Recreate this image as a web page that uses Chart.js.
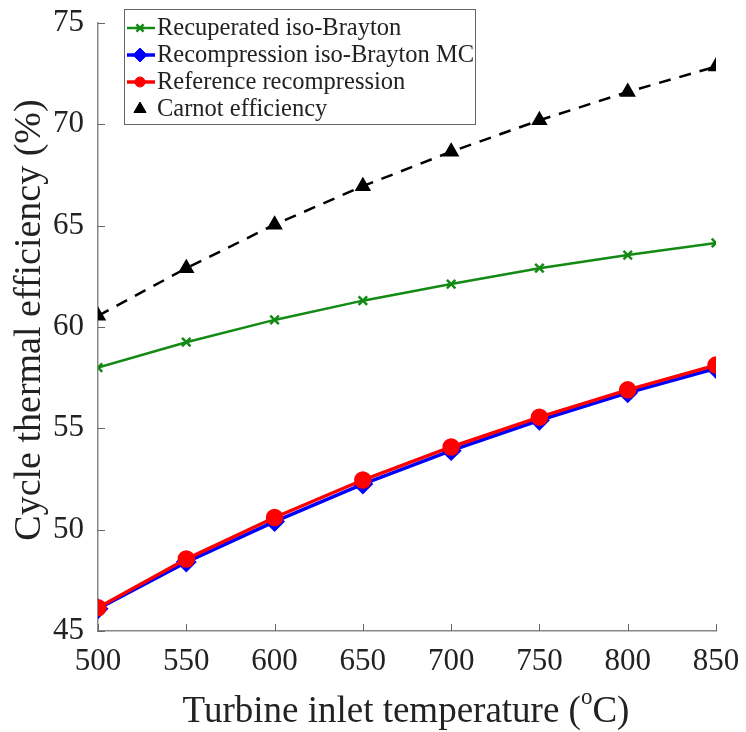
<!DOCTYPE html>
<html lang="en">
<head>
  <meta charset="UTF-8" />
  <title>Cycle thermal efficiency</title>
  <style>
    html, body { margin: 0; padding: 0; background: white; }
    .chart-box { width: 746px; height: 732px; }
  </style>
  <script src="https://cdn.jsdelivr.net/npm/chart.js"></script>
</head>
<body>
  <div class="chart-box"><canvas id="effChart"></canvas></div>

  <script>
    // data
    const temps = [500, 550, 600, 650, 700, 750, 800, 850];
    const recuperated = [58.0, 59.25, 60.35, 61.3, 62.12, 62.9, 63.55, 64.15];
    const recompMC = [46.1, 48.4, 50.4, 52.25, 53.9, 55.4, 56.75, 57.95];
    const refRecomp = [46.15, 48.55, 50.6, 52.45, 54.08, 55.55, 56.9, 58.12];
    const carnot = [60.55, 62.9, 65.05, 66.95, 68.65, 70.2, 71.6, 72.85];
    const yTicks = [45, 50, 55, 60, 65, 70, 75];
    const xTicks = [500, 550, 600, 650, 700, 750, 800, 850];

    const serif = "'Liberation Serif', 'Times New Roman', serif";

    const pts = arr => arr.map((v, i) => ({ x: temps[i], y: v }));

    // MATLAB-style inside ticks, axis titles and boxed legend
    const decorPlugin = {
      id: "decor",
      afterDraw(chart) {
        const ctx = chart.ctx;
        const area = chart.chartArea;
        const xs = chart.scales.x, ys = chart.scales.y;
        ctx.save();
        ctx.strokeStyle = "#666";
        ctx.lineWidth = 1;
        xTicks.forEach(t => {
          const px = Math.round(xs.getPixelForValue(t)) + 0.5;
          ctx.beginPath(); ctx.moveTo(px, area.bottom); ctx.lineTo(px, area.bottom - 7); ctx.stroke();
        });
        yTicks.forEach(t => {
          const py = Math.round(ys.getPixelForValue(t)) + 0.5;
          ctx.beginPath(); ctx.moveTo(area.left, py); ctx.lineTo(area.left + 7, py); ctx.stroke();
        });

        // y title
        ctx.fillStyle = "#222";
        ctx.font = "38px " + serif;
        ctx.textAlign = "center";
        ctx.textBaseline = "middle";
        ctx.save();
        ctx.translate(30, 320);
        ctx.rotate(-Math.PI / 2);
        ctx.fillText("Cycle thermal efficiency (%)", 0, 0);
        ctx.restore();

        // x title with superscript o
        const main1 = "Turbine inlet temperature (";
        const sup = "o";
        const main2 = "C)";
        ctx.font = "37px " + serif;
        const w1 = ctx.measureText(main1).width;
        const w3 = ctx.measureText(main2).width;
        ctx.font = "23px " + serif;
        const w2 = ctx.measureText(sup).width;
        let x0 = 406 - (w1 + w2 + w3) / 2;
        ctx.textAlign = "left";
        ctx.textBaseline = "alphabetic";
        ctx.font = "37px " + serif;
        ctx.fillText(main1, x0, 722);
        ctx.font = "23px " + serif;
        ctx.fillText(sup, x0 + w1, 704);
        ctx.font = "37px " + serif;
        ctx.fillText(main2, x0 + w1 + w2, 722);

        // legend box
        const lx = 124, ly = 9, lw = 351, lh = 115;
        ctx.fillStyle = "white";
        ctx.fillRect(lx, ly, lw, lh);
        ctx.strokeStyle = "#666";
        ctx.lineWidth = 1;
        ctx.strokeRect(lx + 0.5, ly + 0.5, lw, lh);
        ctx.font = "24.5px " + serif;
        ctx.textBaseline = "middle";
        chart.data.datasets.forEach((ds, i) => {
          const cy = ly + 19 + i * 27;
          ctx.strokeStyle = ds.borderColor;
          ctx.fillStyle = ds.backgroundColor;
          ctx.lineWidth = ds.borderWidth;
          ctx.setLineDash([]);
          if (ds.pointStyle !== "triangle") {
            ctx.beginPath(); ctx.moveTo(lx + 3, cy); ctx.lineTo(lx + 31, cy); ctx.stroke();
          }
          ctx.lineWidth = ds.pointBorderWidth || 1;
          Chart.helpers.drawPoint(ctx, {
            pointStyle: ds.pointStyle,
            radius: ds.legendRadius,
            borderWidth: ds.pointBorderWidth || 1,
            rotation: 0
          }, lx + 16, cy);
          ctx.fillStyle = "#222";
          ctx.fillText(ds.label, lx + 33, cy + 1);
        });
        ctx.restore();
      }
    };

    Chart.defaults.font.family = serif;

    const ctx = document.getElementById("effChart").getContext("2d");
    new Chart(ctx, {
      type: "line",
      data: {
        datasets: [
          {
            label: "Recuperated iso-Brayton",
            data: pts(recuperated),
            borderColor: "#138a13",
            backgroundColor: "#138a13",
            borderWidth: 2.5,
            pointStyle: "crossRot",
            pointRadius: 6,
            pointBorderWidth: 2.5,
            legendRadius: 5,
            order: 3
          },
          {
            label: "Recompression iso-Brayton MC",
            data: pts(recompMC),
            borderColor: "#0000ff",
            backgroundColor: "#0000ff",
            borderWidth: 3.5,
            pointStyle: "rectRot",
            pointRadius: 8,
            legendRadius: 7,
            order: 2
          },
          {
            label: "Reference recompression",
            data: pts(refRecomp),
            borderColor: "#ff0000",
            backgroundColor: "#ff0000",
            borderWidth: 3.5,
            pointStyle: "circle",
            pointRadius: 7,
            legendRadius: 5,
            order: 1
          },
          {
            label: "Carnot efficiency",
            data: pts(carnot),
            borderColor: "#000000",
            backgroundColor: "#000000",
            borderWidth: 2.5,
            borderDash: [12, 9],
            pointStyle: "triangle",
            pointRadius: 7,
            legendRadius: 7,
            order: 0
          }
        ]
      },
      options: {
        responsive: true,
        maintainAspectRatio: false,
        animation: false,
        layout: { padding: { top: 23, right: 30, left: 0, bottom: 0 } },
        plugins: {
          legend: { display: false },
          tooltip: { enabled: false }
        },
        scales: {
          x: {
            type: "linear",
            min: 500,
            max: 850,
            afterBuildTicks: s => { s.ticks = xTicks.map(v => ({ value: v })); },
            afterFit: s => { s.height = 101; s.paddingLeft = 0; s.paddingRight = 0; },
            grid: { display: false, drawTicks: false },
            border: { display: true, color: "#888", width: 1.5 },
            ticks: { color: "#222", font: { size: 31 }, padding: 12 }
          },
          y: {
            min: 45,
            max: 75,
            afterBuildTicks: s => { s.ticks = yTicks.map(v => ({ value: v })); },
            afterFit: s => { s.width = 98; s.paddingTop = 0; s.paddingBottom = 0; },
            grid: { display: false, drawTicks: false },
            border: { display: true, color: "#888", width: 1.5 },
            ticks: { color: "#222", font: { size: 31 }, padding: 14 }
          }
        }
      },
      plugins: [decorPlugin]
    });
  </script>
</body>
</html>
